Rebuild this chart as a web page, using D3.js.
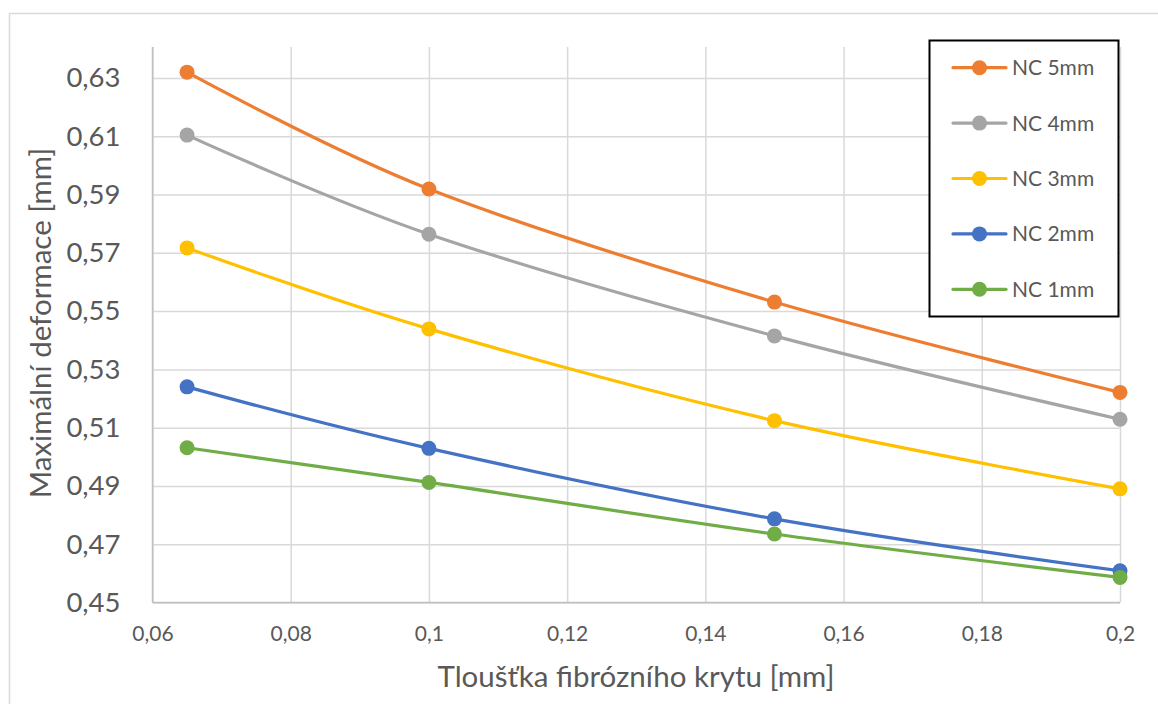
<!DOCTYPE html>
<html>
<head>
<meta charset="utf-8">
<script src="https://cdn.jsdelivr.net/npm/d3@7"></script>
<style>
  body { margin: 0; background: #fff; }
  svg { display: block; }
  text { font-family: Lato, "Open Sans", sans-serif; fill: #595959; }
</style>
</head>
<body>
<svg id="chart" width="1158" height="704"></svg>
<script>
const thickness = [0.065, 0.1, 0.15, 0.2];
const seriesNames = ["NC 5mm", "NC 4mm", "NC 3mm", "NC 2mm", "NC 1mm"];
const nc5 = [0.6320, 0.5919, 0.5531, 0.5221];
const nc4 = [0.6104, 0.5764, 0.5415, 0.5129];
const nc3 = [0.5717, 0.5439, 0.5124, 0.4890];
const nc2 = [0.5240, 0.5029, 0.4787, 0.4609];
const nc1 = [0.5031, 0.4912, 0.4735, 0.4586];
const colors = ["#ED7D31", "#A5A5A5", "#FFC000", "#4472C4", "#70AD47"];
const xTicks = [0.06, 0.08, 0.1, 0.12, 0.14, 0.16, 0.18, 0.2];
const yTicks = [0.45, 0.47, 0.49, 0.51, 0.53, 0.55, 0.57, 0.59, 0.61, 0.63];
const xTitle = "Tloušťka fibrózního krytu [mm]";
const yTitle = "Maximální deformace [mm]";

const seriesValues = [nc5, nc4, nc3, nc2, nc1];
const fmt = d => String(+d.toFixed(3)).replace(".", ",");

const svg = d3.select("#chart");
// outer chart border
svg.append("rect").attr("x", 9.5).attr("y", 13.5).attr("width", 1160).attr("height", 720)
  .attr("fill", "none").attr("stroke", "#d9d9d9").attr("stroke-width", 1.5);

const x = d3.scaleLinear().domain([0.06, 0.2]).range([152.5, 1120]);
const y = d3.scaleLinear().domain([0.45, 0.63]).range([602.5, 78]);

// vertical gridlines
const gx = svg.append("g").attr("transform", "translate(0,602.5)")
  .call(d3.axisBottom(x).tickValues(xTicks).tickFormat(fmt).tickSize(-(602.5 - 47)).tickPadding(24));
gx.select(".domain").remove();
gx.selectAll(".tick line").attr("stroke", "#d9d9d9").attr("stroke-width", 1.5);
gx.selectAll(".tick text").style("font-size", "21px").style("font-family", "Lato").attr("fill", "#595959");

// horizontal gridlines
const gy = svg.append("g").attr("transform", "translate(152.5,0)")
  .call(d3.axisLeft(y).tickValues(yTicks).tickFormat(fmt).tickSize(-(1120 - 152.5)).tickPadding(32));
gy.select(".domain").remove();
gy.selectAll(".tick line").attr("stroke", "#d9d9d9").attr("stroke-width", 1.5);
gy.selectAll(".tick text").style("font-size", "27.5px").style("font-family", "Lato").attr("fill", "#595959");

// axis lines
svg.append("line").attr("x1", 152.5).attr("x2", 152.5).attr("y1", 47).attr("y2", 602.5)
  .attr("stroke", "#bfbfbf").attr("stroke-width", 1.5);
svg.append("line").attr("x1", 152.5).attr("x2", 1120).attr("y1", 602.5).attr("y2", 602.5)
  .attr("stroke", "#bfbfbf").attr("stroke-width", 1.5);

// series
const line = d3.line().x(d => x(d[0])).y(d => y(d[1])).curve(d3.curveCatmullRom.alpha(0));
seriesValues.forEach((vals, i) => {
  const pts = thickness.map((t, j) => [t, vals[j]]);
  svg.append("path").datum(pts).attr("d", line).attr("fill", "none")
    .attr("stroke", colors[i]).attr("stroke-width", 3.2).attr("stroke-linecap", "round");
  svg.append("g").selectAll("circle").data(pts).join("circle")
    .attr("cx", d => x(d[0])).attr("cy", d => y(d[1])).attr("r", 7.5).attr("fill", colors[i]);
});

// axis titles
svg.append("text").attr("x", 636).attr("y", 687).attr("text-anchor", "middle")
  .style("font-size", "29.5px").text(xTitle);
svg.append("text").attr("transform", "translate(51,323) rotate(-90)").attr("text-anchor", "middle")
  .style("font-size", "29.5px").text(yTitle);

// legend
const lg = svg.append("g");
lg.append("rect").attr("x", 929.5).attr("y", 40.5).attr("width", 189).attr("height", 276)
  .attr("fill", "#fff").attr("stroke", "#000").attr("stroke-width", 2);
const legY = d3.scalePoint().domain(seriesNames).range([67.7, 289.3]);
seriesNames.forEach((n, i) => {
  const yy = legY(n);
  lg.append("line").attr("x1", 953).attr("x2", 1006).attr("y1", yy).attr("y2", yy)
    .attr("stroke", colors[i]).attr("stroke-width", 3.2).attr("stroke-linecap", "round");
  lg.append("circle").attr("cx", 979.5).attr("cy", yy).attr("r", 7.5).attr("fill", colors[i]);
  lg.append("text").attr("x", 1012).attr("y", yy).attr("dy", "0.36em")
    .style("font-size", "21px").text(n);
});
</script>
</body>
</html>
